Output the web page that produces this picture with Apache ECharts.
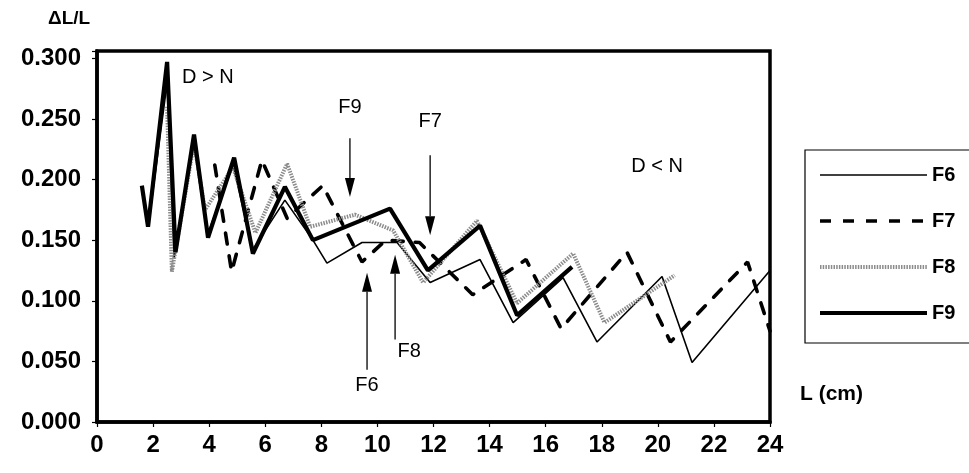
<!DOCTYPE html>
<html>
<head>
<meta charset="utf-8">
<script src="https://cdn.jsdelivr.net/npm/echarts@6/dist/echarts.min.js"></script>
<style>
  html, body { margin: 0; padding: 0; background: #fff; }
  #chart { width: 969px; height: 473px; }
</style>
</head>
<body>
<div id="chart"></div>
<script>
// Relative elongation ΔL/L against position L (cm) for four specimens
const seriesNames = ['F6', 'F7', 'F8', 'F9'];

const f6L = [1.6, 1.85, 2.5, 2.75, 3.45, 3.95, 4.85, 5.55, 6.7, 7.7, 8.2, 9.45, 10.7, 11.88, 13.66, 14.84, 16.62, 17.83, 20.15, 21.22, 24.0];
const f6V = [0.19, 0.165, 0.28, 0.135, 0.228, 0.155, 0.212, 0.142, 0.183, 0.150, 0.131, 0.148, 0.148, 0.115, 0.134, 0.082, 0.119, 0.066, 0.120, 0.049, 0.125];

const f7L = [4.2, 4.8, 5.88, 6.78, 8.05, 9.45, 10.3, 11.5, 13.4, 15.3, 16.55, 18.9, 20.45, 23.2, 24.0];
const f7V = [0.212, 0.124, 0.216, 0.168, 0.195, 0.132, 0.150, 0.148, 0.105, 0.134, 0.077, 0.140, 0.066, 0.132, 0.075];

const f8L = [2.5, 2.67, 3.46, 3.85, 4.85, 5.65, 6.78, 7.6, 9.2, 10.56, 11.63, 13.55, 14.98, 16.98, 18.1, 20.6];
const f8V = [0.26, 0.124, 0.23, 0.175, 0.21, 0.156, 0.213, 0.161, 0.171, 0.158, 0.115, 0.166, 0.098, 0.139, 0.082, 0.121];

const f9L = [1.6, 1.82, 2.5, 2.8, 3.46, 3.96, 4.89, 5.56, 6.7, 7.7, 10.45, 11.8, 13.66, 14.98, 16.94];
const f9V = [0.195, 0.161, 0.297, 0.14, 0.237, 0.152, 0.218, 0.139, 0.194, 0.150, 0.176, 0.125, 0.162, 0.088, 0.128];

// Annotation texts and arrows, placed in data units
const notes = [
  { text: 'D > N', x: 3.95, y: 0.284 },
  { text: 'D < N', x: 19.97, y: 0.211 },
  { text: 'F9', x: 9.02, y: 0.259 },
  { text: 'F7', x: 11.88, y: 0.248 },
  { text: 'F8', x: 11.13, y: 0.058 },
  { text: 'F6', x: 9.63, y: 0.030 }
];
const arrows = [
  { x: 9.02, from: 0.234, to: 0.1855 },   // F9, pointing down
  { x: 11.88, from: 0.220, to: 0.154 },   // F7, pointing down
  { x: 10.63, from: 0.068, to: 0.138 },   // F8, pointing up
  { x: 9.63, from: 0.043, to: 0.123 }     // F6, pointing up
];

const FONT = '"Liberation Sans", Arial, sans-serif';

function zip(xs, ys) { return xs.map((x, i) => [x, ys[i]]); }

const chart = echarts.init(document.getElementById('chart'), null, { renderer: 'canvas' });

const lineStyles = {
  F6: { color: '#000', width: 1.6, type: 'solid' },
  F7: { color: '#000', width: 3.6, type: [11, 12], cap: 'round' },
  F8: { color: '#8c8c8c', width: 4, type: [1.5, 1.2] },
  F9: { color: '#000', width: 4.2, type: 'solid' }
};
const dataMap = { F6: zip(f6L, f6V), F7: zip(f7L, f7V), F8: zip(f8L, f8V), F9: zip(f9L, f9V) };

chart.setOption({
  animation: false,
  backgroundColor: '#fff',
  grid: {
    left: 97, right: 199, top: 51, bottom: 51,
    show: true, borderColor: '#000', borderWidth: 3.5, backgroundColor: 'transparent'
  },
  xAxis: {
    type: 'value', min: 0, max: 24, interval: 2,
    splitLine: { show: false },
    axisLine: { show: true, lineStyle: { color: '#000', width: 3.5 } },
    axisTick: { show: true, length: 5, lineStyle: { color: '#000', width: 1.2 } },
    axisLabel: { color: '#000', fontFamily: FONT, fontWeight: 'bold', fontSize: 24, margin: 11 }
  },
  yAxis: {
    type: 'value', min: 0, max: 0.306, interval: 0.05,
    splitLine: { show: false },
    axisLine: { show: true, lineStyle: { color: '#000', width: 3.5 } },
    axisTick: { show: true, length: 5, lineStyle: { color: '#000', width: 1.2 } },
    axisLabel: {
      color: '#000', fontFamily: FONT, fontWeight: 'bold', fontSize: 24, margin: 16,
      formatter: v => (v > 0.3001 ? '' : v.toFixed(3))
    }
  },
  series: seriesNames.map(name => ({
    name, type: 'line', data: dataMap[name],
    symbol: 'none', showSymbol: false, clip: false,
    lineStyle: lineStyles[name],
    itemStyle: { color: lineStyles[name].color },
    z: name === 'F9' ? 4 : (name === 'F8' ? 3 : 2)
  }))
});

// Legend box, titles, notes and arrows
const graphics = [
  { type: 'rect', shape: { x: 805, y: 150, width: 200, height: 193 },
    style: { fill: 'transparent', stroke: '#000', lineWidth: 1.2 }, z: 0 },
  { type: 'text', left: 48, top: 9,
    style: { text: 'ΔL/L', fill: '#000', font: 'bold 19px ' + FONT } },
  { type: 'text', left: 800, top: 384,
    style: { text: 'L (cm)', fill: '#000', font: 'bold 21px ' + FONT } }
];

seriesNames.forEach((name, i) => {
  const y = 175 + 46 * i;
  const ls = lineStyles[name];
  graphics.push({
    type: 'line', shape: { x1: 820, y1: y, x2: 927, y2: y },
    style: {
      stroke: ls.color, lineWidth: ls.width,
      lineDash: Array.isArray(ls.type) ? ls.type : null
    }
  });
  graphics.push({
    type: 'text', x: 932, y: y,
    style: { text: name, fill: '#000', font: 'bold 20px ' + FONT, verticalAlign: 'middle' }
  });
});

notes.forEach(n => {
  const p = chart.convertToPixel({ gridIndex: 0 }, [n.x, n.y]);
  graphics.push({
    type: 'text', x: p[0], y: p[1],
    style: { text: n.text, fill: '#000', font: '20px ' + FONT, align: 'center', verticalAlign: 'middle' }
  });
});

arrows.forEach(a => {
  const p0 = chart.convertToPixel({ gridIndex: 0 }, [a.x, a.from]);
  const p1 = chart.convertToPixel({ gridIndex: 0 }, [a.x, a.to]);
  const dir = p1[1] > p0[1] ? 1 : -1;
  const headLen = 19, headHalf = 5;
  graphics.push({
    type: 'line',
    shape: { x1: p0[0], y1: p0[1], x2: p1[0], y2: p1[1] - dir * headLen },
    style: { stroke: '#000', lineWidth: 1.3 }, z: 10
  });
  graphics.push({
    type: 'polygon',
    shape: { points: [[p1[0], p1[1]], [p1[0] - headHalf, p1[1] - dir * headLen], [p1[0] + headHalf, p1[1] - dir * headLen]] },
    style: { fill: '#000' }, z: 10
  });
});

chart.setOption({ graphic: graphics });
</script>
</body>
</html>
